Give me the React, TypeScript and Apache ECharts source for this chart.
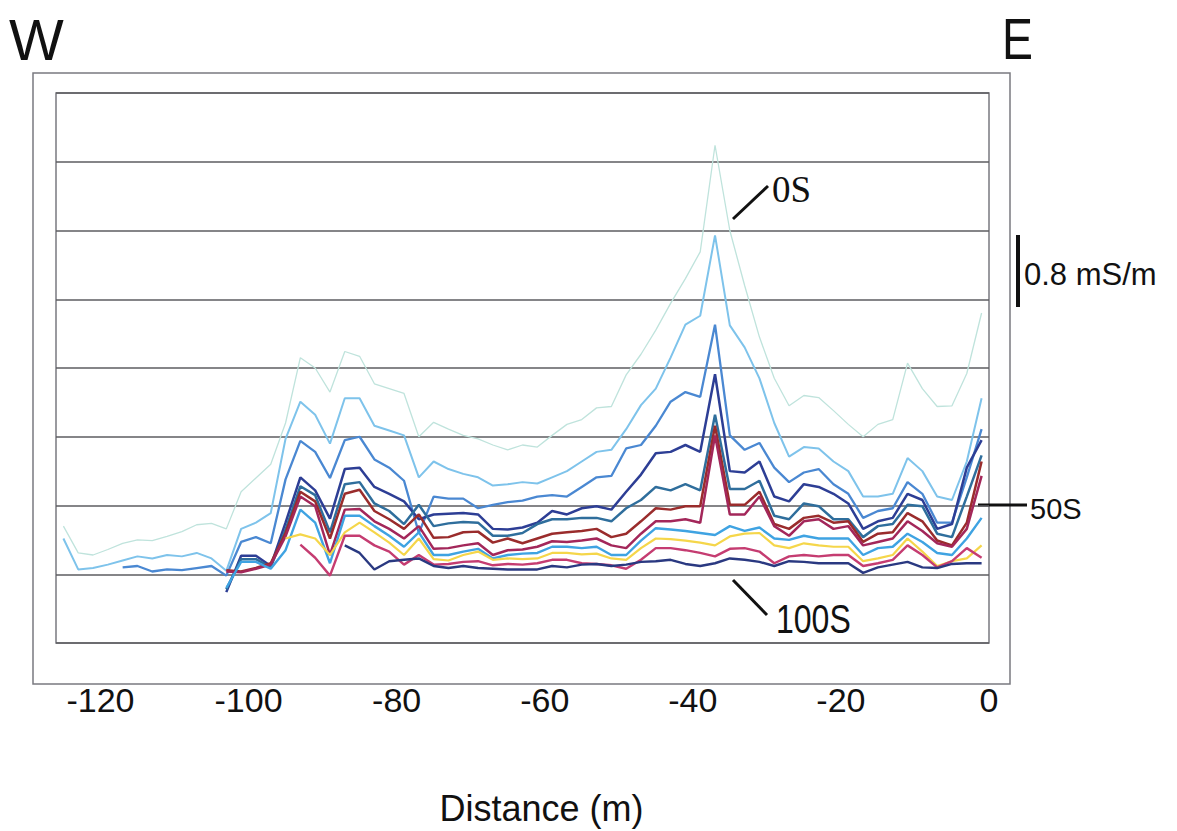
import React, { useEffect, useRef } from "react";
import * as echarts from "echarts";

// Station positions along the profile (m)
const distances = [
  -125, -123, -121, -119, -117, -115, -113, -111, -109, -107, -105, -103, -101, -99, -97, -95,
  -93, -91, -89, -87, -85, -83, -81, -79, -77, -75, -73, -71, -69, -67, -65, -63,
  -61, -59, -57, -55, -53, -51, -49, -47, -45, -43, -41, -39, -37, -35, -33, -31,
  -29, -27, -25, -23, -21, -19, -17, -15, -13, -11, -9, -7, -5, -3, -1,
];

// Values in plot units (1 unit = 0.8 mS/m, as shown by the scale bar)
const t0 = [1.70, 1.31, 1.28, 1.36, 1.45, 1.50, 1.49, 1.55, 1.62, 1.72, 1.74, 1.66, 2.20, 2.40, 2.60, 3.20, 4.15, 4.00, 3.65, 4.24, 4.17, 3.77, 3.70, 3.63, 3.00, 3.21, 3.11, 3.02, 2.97, 2.88, 2.81, 2.88, 2.85, 3.02, 3.18, 3.25, 3.42, 3.44, 3.90, 4.20, 4.55, 4.94, 5.30, 5.69, 7.24, 6.00, 5.20, 4.45, 3.85, 3.45, 3.60, 3.57, 3.38, 3.18, 3.00, 3.18, 3.25, 4.07, 3.70, 3.44, 3.45, 3.92, 4.80];
const t10 = [1.52, 1.07, 1.09, 1.14, 1.20, 1.26, 1.23, 1.28, 1.26, 1.31, 1.23, 1.05, 1.66, 1.75, 1.89, 2.97, 3.51, 3.32, 2.90, 3.56, 3.56, 3.16, 3.09, 3.02, 2.41, 2.64, 2.53, 2.46, 2.41, 2.29, 2.31, 2.34, 2.32, 2.41, 2.50, 2.64, 2.78, 2.81, 3.11, 3.46, 3.70, 4.15, 4.63, 4.76, 5.93, 4.62, 4.30, 3.85, 3.20, 2.71, 2.85, 2.83, 2.64, 2.50, 2.13, 2.13, 2.17, 2.69, 2.50, 2.13, 2.08, 2.64, 3.56];
const t20 = [null, null, null, null, 1.10, 1.12, 1.04, 1.07, 1.06, 1.09, 1.12, 0.98, 1.47, 1.54, 1.45, 2.38, 2.94, 2.78, 2.40, 2.95, 3.00, 2.67, 2.55, 2.36, 1.60, 2.13, 2.10, 2.10, 1.96, 2.01, 2.05, 2.07, 2.13, 2.15, 2.13, 2.27, 2.41, 2.43, 2.83, 2.88, 3.16, 3.51, 3.65, 3.58, 4.63, 3.02, 2.81, 2.91, 2.55, 2.34, 2.48, 2.53, 2.31, 2.17, 1.82, 1.92, 1.96, 2.34, 2.17, 1.75, 1.75, 2.41, 3.11];
const t30 = [null, null, null, null, null, null, null, null, null, null, null, 0.74, 1.27, 1.27, 1.12, 1.75, 2.41, 2.22, 1.81, 2.53, 2.55, 2.27, 2.17, 2.06, 1.80, 1.87, 1.88, 1.89, 1.87, 1.66, 1.65, 1.68, 1.75, 1.92, 1.87, 1.96, 1.99, 1.94, 2.20, 2.45, 2.76, 2.78, 2.88, 2.78, 3.91, 2.50, 2.48, 2.64, 2.13, 2.06, 2.31, 2.27, 2.17, 2.03, 1.66, 1.77, 1.82, 2.17, 2.08, 1.66, 1.73, 2.55, 2.95];
const t40 = [null, null, null, null, null, null, null, null, null, null, null, 0.78, 1.22, 1.22, 1.10, 1.65, 2.28, 2.15, 1.61, 2.31, 2.34, 2.03, 1.92, 1.73, 2.01, 1.70, 1.74, 1.76, 1.75, 1.56, 1.56, 1.60, 1.73, 1.80, 1.80, 1.82, 1.82, 1.77, 1.96, 2.08, 2.27, 2.22, 2.31, 2.22, 3.32, 2.24, 2.24, 2.36, 1.85, 1.80, 2.03, 1.99, 1.80, 1.80, 1.54, 1.70, 1.73, 2.01, 1.99, 1.59, 1.54, 2.13, 2.73];
const t50 = [null, null, null, null, null, null, null, null, null, null, null, 1.06, 1.04, 1.09, 1.16, 1.60, 2.20, 2.06, 1.52, 2.17, 2.23, 1.92, 1.80, 1.66, 1.87, 1.53, 1.54, 1.61, 1.62, 1.46, 1.52, 1.45, 1.52, 1.59, 1.61, 1.63, 1.66, 1.54, 1.59, 1.77, 1.96, 1.94, 1.99, 1.99, 3.16, 2.01, 2.01, 2.20, 1.73, 1.66, 1.82, 1.85, 1.75, 1.77, 1.47, 1.59, 1.61, 1.89, 1.77, 1.49, 1.42, 1.75, 2.64];
const t60 = [null, null, null, null, null, null, null, null, null, null, null, 1.04, 1.03, 1.08, 1.14, 1.55, 2.13, 1.99, 1.28, 1.94, 1.95, 1.77, 1.66, 1.52, 1.70, 1.37, 1.38, 1.42, 1.45, 1.28, 1.35, 1.36, 1.40, 1.48, 1.47, 1.49, 1.52, 1.42, 1.38, 1.59, 1.77, 1.77, 1.80, 1.75, 3.02, 1.87, 1.87, 2.13, 1.70, 1.56, 1.77, 1.80, 1.66, 1.70, 1.42, 1.47, 1.52, 1.77, 1.63, 1.45, 1.40, 1.66, 2.43];
const t70 = [null, null, null, null, null, null, null, null, null, null, null, 0.80, 1.18, 1.18, 1.08, 1.35, 1.94, 1.75, 1.16, 1.85, 1.85, 1.70, 1.56, 1.40, 1.61, 1.28, 1.28, 1.33, 1.37, 1.23, 1.28, 1.30, 1.31, 1.40, 1.40, 1.38, 1.40, 1.28, 1.28, 1.49, 1.67, 1.65, 1.63, 1.60, 1.57, 1.70, 1.63, 1.68, 1.52, 1.50, 1.56, 1.52, 1.52, 1.52, 1.28, 1.38, 1.40, 1.59, 1.47, 1.31, 1.28, 1.52, 1.82];
const t80 = [null, null, null, null, null, null, null, null, null, null, null, null, null, null, null, 1.52, 1.58, 1.52, 1.28, 1.61, 1.75, 1.61, 1.46, 1.28, 1.52, 1.22, 1.20, 1.28, 1.33, 1.21, 1.23, 1.22, 1.23, 1.31, 1.31, 1.29, 1.30, 1.23, 1.21, 1.38, 1.52, 1.51, 1.49, 1.46, 1.42, 1.55, 1.59, 1.60, 1.42, 1.38, 1.45, 1.42, 1.40, 1.40, 1.19, 1.23, 1.28, 1.52, 1.33, 1.12, 1.19, 1.23, 1.42];
const t90 = [null, null, null, null, null, null, null, null, null, null, null, null, null, null, null, null, 1.43, 1.24, 0.98, 1.56, 1.56, 1.42, 1.33, 1.14, 1.28, 1.14, 1.15, 1.18, 1.19, 1.13, 1.15, 1.14, 1.16, 1.21, 1.21, 1.16, 1.15, 1.13, 1.08, 1.21, 1.38, 1.38, 1.35, 1.31, 1.26, 1.37, 1.38, 1.33, 1.16, 1.26, 1.28, 1.26, 1.28, 1.28, 1.12, 1.16, 1.21, 1.42, 1.28, 1.10, 1.19, 1.38, 1.24];
const t100 = [null, null, null, null, null, null, null, null, null, null, null, null, null, null, null, null, null, null, null, 1.42, 1.31, 1.07, 1.19, 1.21, 1.23, 1.12, 1.09, 1.12, 1.09, 1.08, 1.07, 1.07, 1.07, 1.12, 1.10, 1.14, 1.15, 1.12, 1.14, 1.18, 1.19, 1.21, 1.15, 1.12, 1.16, 1.23, 1.21, 1.18, 1.12, 1.19, 1.18, 1.16, 1.16, 1.16, 1.02, 1.10, 1.14, 1.18, 1.10, 1.09, 1.15, 1.16, 1.16];

const seriesNames = ["0S", "10S", "20S", "30S", "40S", "50S", "60S", "70S", "80S", "90S", "100S"];
const seriesValues = [t0, t10, t20, t30, t40, t50, t60, t70, t80, t90, t100];
const seriesColors = ["#bfe3dc", "#7ec3eb", "#4a88d2", "#2d3e95", "#2f6e9c", "#9a2c2c", "#a3275a", "#3fa3e2", "#f5d64a", "#c53c71", "#2a3981"];
const seriesWidths = [1.3, 2, 2.3, 2.5, 2.5, 2.5, 2.5, 2.4, 2.2, 2.4, 2.4];

const xTickLabels = [-120, -100, -80, -60, -40, -20, 0];

export default function App() {
  const ref = useRef<HTMLDivElement>(null);

  useEffect(() => {
    if (!ref.current) return;
    const chart = echarts.init(ref.current, null, { renderer: "svg" });
    const sans = "'Liberation Sans', Arial, sans-serif";

    const series = seriesNames.map((name, k) => ({
      name,
      type: "line",
      data: distances.map((d, i) => [d, seriesValues[k][i]]),
      showSymbol: false,
      symbol: "none",
      connectNulls: false,
      lineStyle: { color: seriesColors[k], width: seriesWidths[k] },
      itemStyle: { color: seriesColors[k] },
      z: 2 + k,
    }));

    chart.setOption({
      animation: false,
      backgroundColor: "#ffffff",
      grid: {
        left: 56,
        top: 93,
        width: 933,
        height: 568,
        show: true,
        borderColor: "#7a7a80",
        borderWidth: 1.5,
        backgroundColor: "transparent",
      },
      xAxis: {
        type: "value",
        min: -126,
        max: 0,
        name: "Distance (m)",
        nameLocation: "middle",
        nameGap: 147,
        nameTextStyle: { fontFamily: sans, fontSize: 36, color: "#111", padding: [0, 0, 0, 38] },
        axisLine: { show: false },
        axisTick: { show: false },
        splitLine: { show: false },
        axisLabel: {
          customValues: xTickLabels,
          margin: 40,
          fontFamily: sans,
          fontSize: 34,
          color: "#111",
        },
      },
      yAxis: {
        type: "value",
        min: 0,
        max: 8,
        interval: 1,
        axisLine: { show: false },
        axisTick: { show: false },
        axisLabel: { show: false },
        splitLine: { show: true, lineStyle: { color: "#5c5c60", width: 1.5 } },
      },
      series,
      graphic: [
        {
          type: "rect",
          shape: { x: 33, y: 73, width: 977, height: 611 },
          style: { fill: "none", stroke: "#7a7a80", lineWidth: 1.5 },
          silent: true,
        },
        {
          type: "text",
          left: 9,
          top: 10,
          style: { text: "W", fontFamily: sans, fontSize: 58, fill: "#111" },
        },
        {
          type: "text",
          x: 1002,
          y: 10,
          scaleX: 0.8,
          style: { text: "E", fontFamily: sans, fontSize: 58, fill: "#111" },
        },
        {
          type: "line",
          shape: { x1: 1018, y1: 235, x2: 1018, y2: 307 },
          style: { stroke: "#111", lineWidth: 4 },
        },
        {
          type: "text",
          x: 1024,
          y: 274,
          style: { text: "0.8 mS/m", fontFamily: sans, fontSize: 31, fill: "#111", verticalAlign: "middle" },
        },
        {
          type: "line",
          shape: { x1: 733, y1: 219, x2: 768, y2: 186 },
          style: { stroke: "#111", lineWidth: 3 },
        },
        {
          type: "text",
          x: 772,
          y: 189,
          style: { text: "0S", fontFamily: "'Liberation Serif', 'Times New Roman', serif", fontSize: 37, fill: "#111", verticalAlign: "middle" },
        },
        {
          type: "line",
          shape: { x1: 978, y1: 505, x2: 1027, y2: 505 },
          style: { stroke: "#111", lineWidth: 3 },
        },
        {
          type: "text",
          x: 1030,
          y: 509,
          style: { text: "50S", fontFamily: sans, fontSize: 29, fill: "#111", verticalAlign: "middle" },
        },
        {
          type: "line",
          shape: { x1: 733, y1: 580, x2: 767, y2: 615 },
          style: { stroke: "#111", lineWidth: 3 },
        },
        {
          type: "text",
          x: 776,
          y: 619,
          scaleX: 0.8,
          style: { text: "100S", fontFamily: sans, fontSize: 40, fill: "#111", verticalAlign: "middle" },
        },
      ],
    });

    return () => {
      chart.dispose();
    };
  }, []);

  return (
    <div
      ref={ref}
      style={{ position: "fixed", left: 0, top: 0, width: 1177, height: 831, background: "#fff" }}
    />
  );
}
